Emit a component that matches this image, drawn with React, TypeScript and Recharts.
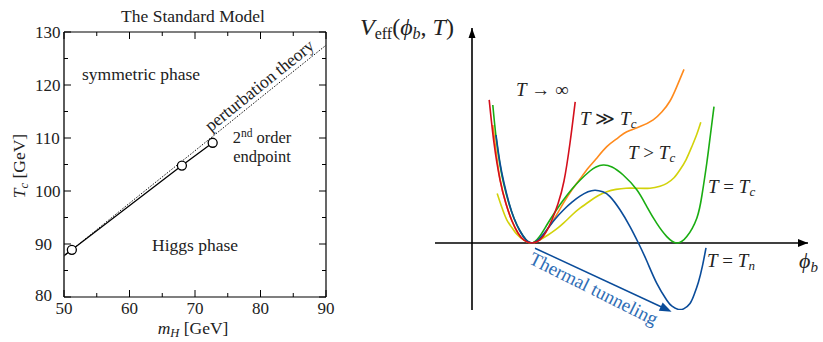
import React from "react";
import {
  ComposedChart,
  LineChart,
  Line,
  XAxis,
  YAxis,
  ReferenceLine,
  ReferenceDot,
} from "recharts";

const FONT = "'Liberation Serif', 'DejaVu Serif', serif";

// left panel: critical temperature vs Higgs mass
const massTicks = [50, 55, 60, 65, 70, 75, 80, 85, 90];
const tempTicks = [80, 85, 90, 95, 100, 105, 110, 115, 120, 125, 130];

const pertMass = [50, 60, 70, 80, 90];
const pertTc = [87.7, 97.7, 107.6, 117.6, 127.5];

const latticeMass = [50, 51.2, 68, 72.7];
const latticeTc = [87.8, 88.9, 104.8, 109.1];

const endpointMass = [51.2, 68, 72.7];
const endpointTc = [88.9, 104.8, 109.1];

// right panel: effective potential sketch
const redPhi = [0.43, 0.55, 0.7, 0.85, 1.0, 1.15, 1.3, 1.5, 1.7, 1.85, 2.0, 2.15, 2.3, 2.45, 2.58];
const redV = [3.58, 2.5, 1.58, 0.98, 0.55, 0.25, 0.07, 0, 0.08, 0.27, 0.58, 0.98, 1.55, 2.5, 3.53];

const orangePhi = [0.52, 0.6, 0.7, 0.85, 1.0, 1.15, 1.3, 1.5, 1.7, 1.9, 2.1, 2.3, 2.5, 2.7, 2.9, 3.1, 3.37, 3.65, 3.87, 4.2, 4.53, 4.75, 4.95, 5.12, 5.3];
const orangeV = [2.95, 2.3, 1.6, 0.98, 0.55, 0.24, 0.07, 0, 0.1, 0.36, 0.68, 1.02, 1.33, 1.6, 1.87, 2.1, 2.41, 2.63, 2.78, 2.91, 3.08, 3.28, 3.55, 3.91, 4.34];

const greenPhi = [0.52, 0.6, 0.7, 0.8, 0.92, 1.05, 1.2, 1.35, 1.5, 1.68, 1.87, 2.08, 2.28, 2.5, 2.7, 2.95, 3.1, 3.28, 3.5, 3.78, 4.12, 4.37, 4.62, 4.87, 5.12, 5.37, 5.62, 5.75, 5.87, 5.96, 6.05];
const greenV = [3.45, 2.66, 1.95, 1.45, 1.0, 0.62, 0.3, 0.08, 0, 0.15, 0.45, 0.78, 1.07, 1.35, 1.57, 1.8, 1.9, 1.95, 1.9, 1.7, 1.33, 0.91, 0.49, 0.16, 0, 0.16, 0.62, 1.2, 2.0, 2.7, 3.41];

const yellowPhi = [0.63, 0.75, 0.87, 1.0, 1.12, 1.3, 1.5, 1.7, 1.9, 2.1, 2.28, 2.5, 2.7, 2.95, 3.15, 3.37, 3.6, 3.85, 4.1, 4.45, 4.7, 4.87, 5.05, 5.2, 5.35, 5.5, 5.62, 5.72];
const yellowV = [1.24, 0.88, 0.58, 0.38, 0.22, 0.07, 0, 0.08, 0.2, 0.34, 0.49, 0.7, 0.87, 1.05, 1.18, 1.28, 1.34, 1.37, 1.37, 1.37, 1.42, 1.49, 1.63, 1.83, 2.08, 2.42, 2.72, 3.02];

const bluePhi = [0.6, 0.7, 0.8, 0.92, 1.05, 1.2, 1.35, 1.5, 1.68, 1.87, 2.08, 2.28, 2.5, 2.7, 2.9, 3.08, 3.27, 3.45, 3.7, 3.95, 4.16, 4.37, 4.62, 4.87, 5.0, 5.16, 5.3, 5.45, 5.55, 5.66, 5.76, 5.85];
const blueV = [2.7, 2.0, 1.5, 1.02, 0.62, 0.3, 0.08, 0, 0.1, 0.33, 0.6, 0.82, 1.02, 1.17, 1.28, 1.32, 1.28, 1.16, 0.83, 0.41, 0, -0.45, -1.01, -1.43, -1.58, -1.66, -1.64, -1.51, -1.3, -0.98, -0.58, -0.12];

// tunneling arrow, start and tip
const tunnelPhi = [1.575, 4.99];
const tunnelV = [-0.13, -1.72];

const pairs = (xs: number[], ys: number[], kx: string, ky: string) =>
  xs.map((x, i) => ({ [kx]: x, [ky]: ys[i] }));

const pertData = pairs(pertMass, pertTc, "m", "tc");
const latticeData = pairs(latticeMass, latticeTc, "m", "tc");
const endpointData = pairs(endpointMass, endpointTc, "m", "tc");

const curves = [
  { name: "yellow", color: "#d2d20a", data: pairs(yellowPhi, yellowV, "phi", "v") },
  { name: "orange", color: "#ff8a1c", data: pairs(orangePhi, orangeV, "phi", "v") },
  { name: "green", color: "#1aad12", data: pairs(greenPhi, greenV, "phi", "v") },
  { name: "blue", color: "#0a4c9a", data: pairs(bluePhi, blueV, "phi", "v") },
  { name: "red", color: "#d40f1c", data: pairs(redPhi, redV, "phi", "v") },
];

// inward ticks on all four sides, labels only bottom/left
function FrameTick(props: any) {
  const { x, y, payload, side, labels } = props;
  const v = payload.value;
  const major = v % 10 === 0;
  const len = major ? 7 : 4;
  let line;
  if (side === "bottom") line = <line x1={x} y1={y} x2={x} y2={y - len} />;
  else if (side === "top") line = <line x1={x} y1={y} x2={x} y2={y + len} />;
  else if (side === "left") line = <line x1={x} y1={y} x2={x + len} y2={y} />;
  else line = <line x1={x} y1={y} x2={x - len} y2={y} />;
  return (
    <g>
      <g stroke="#000" strokeWidth={1}>{line}</g>
      {labels && major && side === "bottom" && (
        <text x={x} y={y + 17} textAnchor="middle" fontFamily={FONT} fontSize={17} fill="#222">
          {v}
        </text>
      )}
      {labels && major && side === "left" && (
        <text x={x - 29} y={y + (v === 80 ? 4 : 6)} textAnchor="start" fontFamily={FONT} fontSize={17} fill="#222">
          {v}
        </text>
      )}
    </g>
  );
}

const ArrowRight = (p: any) => (
  <polygon points={`${p.cx},${p.cy} ${p.cx - 10},${p.cy - 4} ${p.cx - 10},${p.cy + 4}`} fill="#000" />
);
const ArrowUp = (p: any) => (
  <polygon points={`${p.cx},${p.cy} ${p.cx - 3.5},${p.cy + 10} ${p.cx + 3.5},${p.cy + 10}`} fill="#000" />
);
const ArrowTunnel = (p: any) => (
  <polygon
    points={`${p.cx},${p.cy} ${p.cx - 12},${p.cy - 4.5} ${p.cx - 12},${p.cy + 4.5}`}
    fill="#0a4c9a"
    transform={`rotate(25.2, ${p.cx}, ${p.cy})`}
  />
);

function LeftPanel() {
  const axisCommon = {
    type: "number" as const,
    tickSize: 0,
    tickMargin: 0,
    interval: 0 as const,
    tickLine: false,
    allowDataOverflow: true,
    axisLine: { stroke: "#000", strokeWidth: 1.2 },
  };
  return (
    <ComposedChart width={340} height={342} margin={{ top: 31, right: 13, bottom: 44, left: 63 }}>
      <XAxis {...axisCommon} xAxisId="b" dataKey="m" domain={[50, 90]} ticks={massTicks} height={1}
        tick={(p: any) => <FrameTick {...p} side="bottom" labels />} />
      <XAxis {...axisCommon} xAxisId="t" orientation="top" dataKey="m" domain={[50, 90]} ticks={massTicks} height={1}
        tick={(p: any) => <FrameTick {...p} side="top" />} />
      <YAxis {...axisCommon} yAxisId="l" domain={[80, 130]} ticks={tempTicks} width={1}
        axisLine={{ stroke: "#333", strokeWidth: 1.6 }}
        tick={(p: any) => <FrameTick {...p} side="left" labels />} />
      <YAxis {...axisCommon} yAxisId="r" orientation="right" domain={[80, 130]} ticks={tempTicks} width={1}
        tick={(p: any) => <FrameTick {...p} side="right" />} />
      <Line xAxisId="t" yAxisId="r" data={pertData} dataKey="tc" stroke="none" dot={false} activeDot={false} isAnimationActive={false} />
      <Line xAxisId="b" yAxisId="l" data={pertData} dataKey="tc" type="linear" stroke="#111" strokeWidth={1}
        strokeDasharray="1.5 1.5" dot={false} activeDot={false} isAnimationActive={false} />
      <Line xAxisId="b" yAxisId="l" data={latticeData} dataKey="tc" type="linear" stroke="#000" strokeWidth={1.3}
        dot={false} activeDot={false} isAnimationActive={false} />
      <Line xAxisId="b" yAxisId="l" data={endpointData} dataKey="tc" stroke="none"
        dot={{ r: 4.5, fill: "#fff", stroke: "#000", strokeWidth: 1.3 }} activeDot={false} isAnimationActive={false} />
    </ComposedChart>
  );
}

function RightPanel() {
  return (
    <LineChart width={483} height={342} margin={{ top: 28, right: 15, bottom: 32, left: 95 }}>
      <XAxis type="number" dataKey="phi" domain={[-0.925, 8.4]} hide allowDataOverflow />
      <YAxis type="number" domain={[-1.675, 5.375]} hide allowDataOverflow />
      <ReferenceLine y={0} stroke="#000" strokeWidth={1.6} />
      <ReferenceLine x={0} stroke="#000" strokeWidth={1.6} />
      <ReferenceDot x={8.4} y={0} r={0} shape={ArrowRight} ifOverflow="visible" />
      <ReferenceDot x={0} y={5.375} r={0} shape={ArrowUp} ifOverflow="visible" />
      {curves.map((c) => (
        <Line key={c.name} data={c.data} dataKey="v" type="natural" stroke={c.color} strokeWidth={1.6}
          dot={false} activeDot={false} isAnimationActive={false} />
      ))}
      <ReferenceLine
        segment={[
          { x: tunnelPhi[0], y: tunnelV[0] },
          { x: tunnelPhi[1] - 0.25, y: tunnelV[1] + 0.12 },
        ]}
        stroke="#0a4c9a"
        strokeWidth={1.5}
        ifOverflow="visible"
      />
      <ReferenceDot x={tunnelPhi[1]} y={tunnelV[1]} r={0} shape={ArrowTunnel} ifOverflow="visible" />
    </LineChart>
  );
}

function Annotations() {
  const t = { fontFamily: FONT, fill: "#222" };
  return (
    <svg width={823} height={342} style={{ position: "absolute", left: 0, top: 0, pointerEvents: "none" }}>
      {/* left panel */}
      <text x={193} y={22} textAnchor="middle" fontSize={17.5} {...t}>The Standard Model</text>
      <text x={82} y={80} fontSize={17.5} {...t}>symmetric phase</text>
      <text x={152} y={251} fontSize={17.5} {...t}>Higgs phase</text>
      <text x={262} y={143} textAnchor="middle" fontSize={16.5} {...t}>
        2<tspan fontSize={11.5} dy={-6}>nd</tspan><tspan dy={6}> order</tspan>
      </text>
      <text x={262} y={162} textAnchor="middle" fontSize={16.5} {...t}>endpoint</text>
      <text transform="translate(263,90) rotate(-38.9)" textAnchor="middle" fontSize={17.5} {...t}>
        perturbation theory
      </text>
      <text transform="translate(25,166) rotate(-90)" textAnchor="middle" fontSize={17.5} {...t}>
        <tspan fontStyle="italic">T</tspan>
        <tspan fontStyle="italic" fontSize={12.5} dy={3}>c</tspan>
        <tspan dy={-3}> [GeV]</tspan>
      </text>
      <text x={193} y={334} textAnchor="middle" fontSize={17.5} {...t}>
        <tspan fontStyle="italic">m</tspan>
        <tspan fontStyle="italic" fontSize={12.5} dy={3}>H</tspan>
        <tspan dy={-3}> [GeV]</tspan>
      </text>

      {/* right panel */}
      <text x={360} y={35} fontSize={24} {...t}>
        <tspan fontStyle="italic">V</tspan>
        <tspan fontSize={16} dy={4}>eff</tspan>
        <tspan dy={-4}>(</tspan>
        <tspan fontStyle="italic">ϕ</tspan>
        <tspan fontStyle="italic" fontSize={16} dy={4}>b</tspan>
        <tspan dy={-4}>, </tspan>
        <tspan fontStyle="italic">T</tspan>
        <tspan>)</tspan>
      </text>
      <text x={799} y={268} fontSize={22} {...t}>
        <tspan fontStyle="italic">ϕ</tspan>
        <tspan fontStyle="italic" fontSize={15} dy={4}>b</tspan>
      </text>
      <text x={516} y={96} fontSize={19} {...t}>
        <tspan fontStyle="italic">T</tspan> → ∞
      </text>
      <text x={580} y={125} fontSize={19} {...t}>
        <tspan fontStyle="italic">T</tspan> ≫ <tspan fontStyle="italic">T</tspan>
        <tspan fontStyle="italic" fontSize={13} dy={3}>c</tspan>
      </text>
      <text x={628} y={159} fontSize={19} {...t}>
        <tspan fontStyle="italic">T</tspan> &gt; <tspan fontStyle="italic">T</tspan>
        <tspan fontStyle="italic" fontSize={13} dy={3}>c</tspan>
      </text>
      <text x={708} y={193} fontSize={19} {...t}>
        <tspan fontStyle="italic">T</tspan> = <tspan fontStyle="italic">T</tspan>
        <tspan fontStyle="italic" fontSize={13} dy={3}>c</tspan>
      </text>
      <text x={707} y={267} fontSize={19} {...t}>
        <tspan fontStyle="italic">T</tspan> = <tspan fontStyle="italic">T</tspan>
        <tspan fontStyle="italic" fontSize={13} dy={3}>n</tspan>
      </text>
      <text transform="translate(528,263) rotate(26.5)" fontSize={19} fontFamily={FONT} fill="#2f6db5">
        Thermal tunneling
      </text>
    </svg>
  );
}

export default function App() {
  return (
    <div style={{ position: "absolute", left: 0, top: 0, width: 823, height: 342, background: "#fff", fontFamily: FONT }}>
      <div style={{ position: "absolute", left: 0, top: 0 }}>
        <LeftPanel />
      </div>
      <div style={{ position: "absolute", left: 340, top: 0 }}>
        <RightPanel />
      </div>
      <Annotations />
    </div>
  );
}
